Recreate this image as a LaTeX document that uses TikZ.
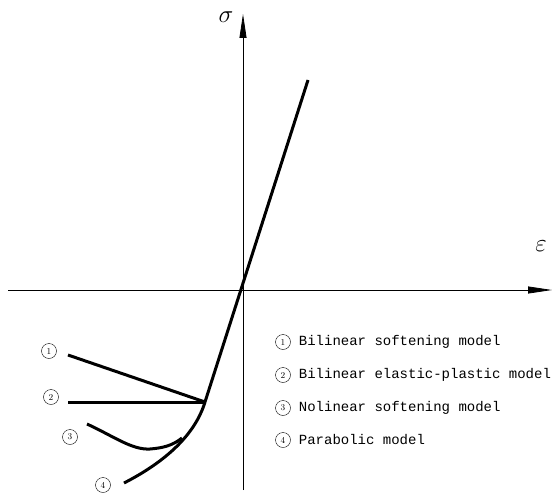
\documentclass[tikz,border=0pt]{standalone}
\usepackage{fontspec}
\setmonofont{Liberation Mono}
\usetikzlibrary{arrows.meta,positioning}

\begin{document}
\begin{tikzpicture}[x=1pt,y=-1pt,
  axis/.style={line width=0.8pt,-{Triangle[length=24pt,width=7pt]}},
  curve/.style={line width=3pt},
  num/.style={circle,draw,inner sep=0.5pt,minimum size=15pt,font=\small},
  legend/.style={anchor=west,inner sep=0pt,font=\ttfamily\fontsize{14}{16}\selectfont}]
\useasboundingbox (0,0) rectangle (556,500);
% axes
\coordinate (xs) at (8,290);
\coordinate (xe) at (552,290);
\coordinate (ys) at (243,490);
\coordinate (ye) at (243,14);
\draw[axis] (xs)--(xe);
\draw[axis] (ys)--(ye);
\node (sig) at (226,17) {\fontsize{30}{30}\selectfont$\sigma$};
\node (eps) at (541,246) {\fontsize{26}{26}\selectfont$\varepsilon$};
% main branch
\coordinate (top) at (308,80);
\coordinate (J) at (205,402);
\coordinate (m) at (182,438);
\draw[curve] (top)--(J);
% softening branches
\coordinate (e1) at (68,355);
\coordinate (e2) at (68,402);
\coordinate (e3) at (87,424);
\coordinate (e4) at (124,483);
\draw[curve] (J)--(e1);
\draw[curve] (J)--(e2);
\draw[curve] (J) .. controls (195,435) and (165,462) .. (e4);
\draw[curve] (e3) .. controls (115,437) and (132,450) .. (150,449)
                 .. controls (162,448) and (172,446) .. (m);
% labels
\node[num] (n1) at (49,351) {1};
\node[num] (n2) at (51,397) {2};
\node[num] (n3) at (70,437) {3};
\node[num] (n4) at (103,485) {4};
% legend
\node[num] (l1) at (283,342) {1};
\node[num] (l2) at (283,375) {2};
\node[num] (l3) at (283,408) {3};
\node[num] (l4) at (283,440) {4};
\node[legend,right=8pt of l1] {Bilinear softening model};
\node[legend,right=8pt of l2] {Bilinear elastic-plastic model};
\node[legend,right=8pt of l3] {Nolinear softening model};
\node[legend,right=8pt of l4] {Parabolic model};
\end{tikzpicture}
\end{document}
